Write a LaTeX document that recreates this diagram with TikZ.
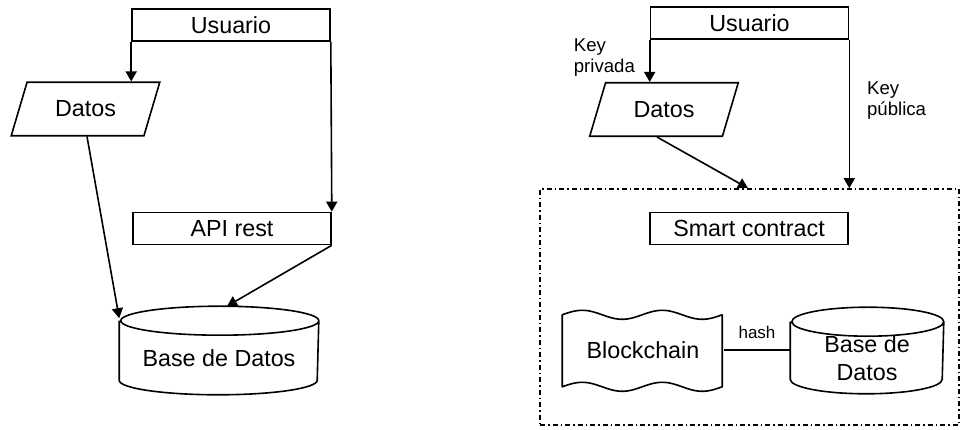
\documentclass[tikz,border=0pt]{standalone}
\usepackage{fontspec}
\setmainfont{Liberation Sans}
\usetikzlibrary{arrows.meta,positioning,shapes.geometric}

\newcommand{\bajar}[1]{\rule{0pt}{#1}}
% contorno de cilindro alrededor de un nodo: nombre, radio x, radio y
\newcommand{\cilindro}[3]{%
  \draw[-] ([yshift=-#3]#1.north west) -- ([yshift=#3]#1.south west)
        arc[start angle=180, end angle=360, x radius=#2, y radius=#3]
        -- ([yshift=-#3]#1.north east)
        arc[start angle=0, end angle=360, x radius=#2, y radius=#3];}

\tikzset{
  caja/.style={draw, rectangle, minimum width=198pt, minimum height=32pt, inner sep=0pt},
  datos/.style={draw, trapezium, trapezium left angle=73.5, trapezium right angle=106.5,
                inner xsep=28pt, inner ysep=18.6pt},
  bdatos/.style={rectangle, minimum width=198pt, minimum height=87pt, inner sep=0pt, align=center},
  clave/.style={font=\fontsize{18.6}{21}\selectfont, align=left, inner sep=0pt},
  limite/.style={draw, dash pattern=on 5pt off 3pt on 1.5pt off 3pt},
}

\begin{document}
\begin{tikzpicture}[x=1pt,y=1pt,->,>={Triangle[length=10pt,width=11pt]},line width=1.6pt,
                    font=\fontsize{23.3}{28}\selectfont]
  \useasboundingbox (0,0) rectangle (964,430);

  % sin blockchain
  \node[caja]   (usr1) at (231,405)   {Usuario};
  \node[datos]  (dat1) at (85.5,321)  {Datos};
  \node[caja]   (api)  at (232,201.5) {API rest};
  \node[bdatos] (bd1)  at (219,79.5)  {\bajar{31.7pt}Base de Datos};
  \cilindro{bd1}{99pt}{14.5pt}

  \path (usr1.south west) edge (usr1.south west |- dat1.north)
        (usr1.south east) edge (api.north east)
        ([xshift=1.5pt]dat1.south) edge ([yshift=-12pt]bd1.north west)
        (api.south east) edge ([xshift=8pt]bd1.north);

  % con blockchain
  \node[caja]   (usr2) at (749.5,407) {Usuario};
  \node[datos]  (dat2) at (664,320.5) {Datos};
  \node[limite, minimum width=419pt, minimum height=236pt] (sc) at (749.5,123) {};
  \node[caja]   (smc)  at (749,201.5) {Smart contract};
  \node[minimum width=160pt, minimum height=72pt, inner sep=0pt] (bc) at (643,80) {Blockchain};
  \node[bdatos, minimum width=152pt, minimum height=85pt] (bd2) at (867,79.5)
                {\bajar{33pt}Base de\\Datos};
  \cilindro{bd2}{76pt}{14.5pt}

  \draw[-, line join=round, shift={(bc.south west)}]
        plot[domain=0:160, samples=65] (\x,{72+4.5*sin(4.5*\x)})
        -- plot[domain=160:0, samples=65] (\x,{4.5*sin(4.5*\x)}) -- cycle;

  \path (usr2.south west) edge node[clave, left=14pt, pos=0.43] {Key\\privada}
                               (usr2.south west |- dat2.north)
        (usr2.south east) edge node[clave, right=17pt, pos=0.41] {Key\\pública}
                               (usr2.south east |- sc.north)
        ([xshift=-7pt]dat2.south) edge ([xshift=-1.5pt]sc.north)
        (bc.east) edge[-] node[above=6.7pt, font=\fontsize{17}{20}\selectfont] {hash}
                               (bc.east -| bd2.west);
\end{tikzpicture}
\end{document}
